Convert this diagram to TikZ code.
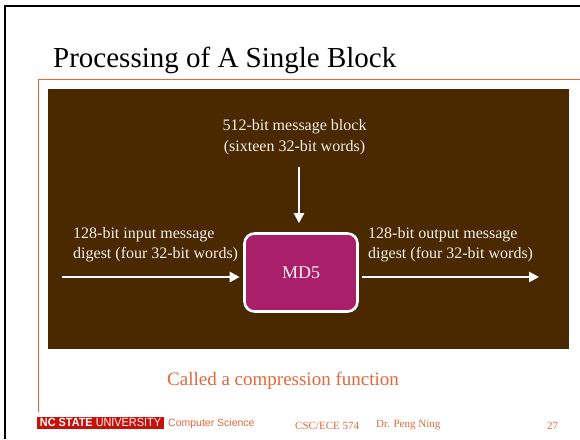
\documentclass[tikz,border=0pt]{standalone}
\usepackage{fontspec}
\setmainfont{Liberation Serif}
\setsansfont{Liberation Sans}
\usetikzlibrary{arrows.meta}
\definecolor{bgbrown}{HTML}{4A2800}
\definecolor{mdmag}{HTML}{AA1F6A}
\definecolor{slideorange}{HTML}{E2683A}
\definecolor{ncred}{HTML}{C8100A}
\definecolor{labwhite}{HTML}{F2F0EE}
\tikzset{
  lab/.style={text=labwhite, font=\fontsize{16}{20.5}\selectfont, inner sep=0pt, align=left},
  flow/.style={draw=white, line width=2.6pt, -{Triangle[width=10pt,length=10pt]}},
  mdbox/.style={draw=white, line width=2.6pt, fill=mdmag, rounded corners=10pt,
    minimum width=113pt, minimum height=78pt, text=labwhite, font=\fontsize{18}{22}\selectfont},
  foot/.style={text=slideorange, inner sep=0pt, anchor=west}
}
\begin{document}
\begin{tikzpicture}[x=1pt,y=-1pt]
\useasboundingbox (0,0) rectangle (580,439);
\fill[white] (0,0) rectangle (580,439);
% slide frame
\draw[black, line width=2pt] (5,439) -- (5,6) -- (580,6);
% title
\node[anchor=west, inner sep=0pt, font=\fontsize{29}{34}\selectfont] (title) at (53,60) {Processing of A Single Block};
% orange frame lines
\draw[slideorange, line width=1.3pt] (38.5,412) -- (38.5,79.5) -- (580,79.5);
% brown panel
\fill[bgbrown] (48,89) rectangle (569,349);
% MD5 box
\node[mdbox] (md5) at (301,272.5) {MD5};
% labels
\node[lab, align=center] (blk) at (294.5,137) {512-bit message block\\(sixteen 32-bit words)};
\node[lab, anchor=west] (inlab) at (73,244.5) {128-bit input message\\digest (four 32-bit words)};
\node[lab, anchor=west] (outlab) at (368,244.5) {128-bit output message\\digest (four 32-bit words)};
% connectors
\coordinate (topin) at (299,167);
\coordinate (inL) at (62,277);
\coordinate (outR) at (539,277);
\draw[flow, shorten >=9pt] (topin) -- (topin |- md5.north);
\draw[flow, shorten >=3.5pt] (inL) -- (inL -| md5.west);
\draw[flow, shorten <=3.5pt] (outR -| md5.east) -- (outR);
% caption
\node[text=slideorange, inner sep=0pt, font=\fontsize{19}{23}\selectfont] (cap) at (283,381) {Called a compression function};
% footer
\fill[ncred] (37,417) rectangle (164,428.5);
\node[inner sep=0pt, text=white, font=\sffamily] (ncsu) at (100.5,422.8) {\resizebox{121pt}{8.3pt}{\textbf{NC STATE} UNIVERSITY}};
\node[foot, font=\sffamily\fontsize{10.5}{12}\selectfont] (cs) at (168,424) {Computer Science};
\node[foot, font=\fontsize{11}{13}\selectfont] (course) at (295,425.5) {CSC/ECE 574};
\node[foot, font=\fontsize{11}{13}\selectfont] (auth) at (376,425.5) {Dr. Peng Ning};
\node[foot, font=\fontsize{11}{13}\selectfont] (pg) at (547,425.5) {27};
\end{tikzpicture}
\end{document}
